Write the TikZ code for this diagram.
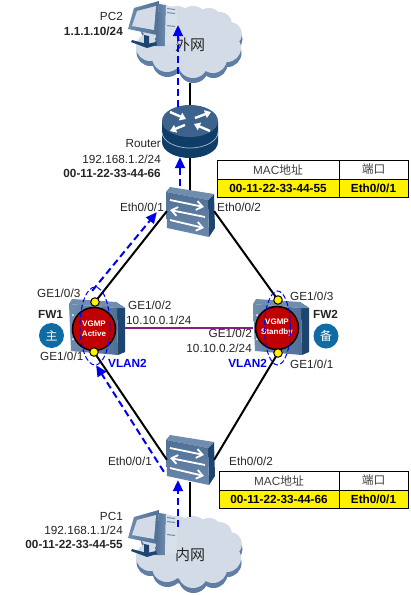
\documentclass[tikz,border=0pt]{standalone}
\usepackage{fontspec}
\setmainfont{Liberation Sans}
\newfontfamily\cjk{Noto Sans CJK SC}
\usetikzlibrary{arrows.meta,calc}
\definecolor{cloudfill}{HTML}{D3DCE6}
\definecolor{cloudshade}{HTML}{5F7DA5}
\definecolor{devface}{HTML}{4F6F96}
\definecolor{devtop}{HTML}{6F8DAE}
\definecolor{devside}{HTML}{1D4570}
\definecolor{routertop}{HTML}{3D638C}
\definecolor{routerdark}{HTML}{0F3D68}
\definecolor{fwred}{HTML}{C00000}
\definecolor{tagblue}{HTML}{0F6BA3}
\definecolor{txt}{HTML}{262626}
\definecolor{headtxt}{HTML}{404040}
\definecolor{link}{HTML}{8B1A8B}
\definecolor{flowblue}{HTML}{0000F0}
\tikzset{
  x=1pt,y=-1pt,
  lbl/.style={font=\fontsize{11.75}{14}\selectfont,text=txt,inner sep=0pt},
  lblb/.style={lbl,font=\fontsize{11.75}{14}\selectfont\bfseries},
  vl/.style={lbl,font=\fontsize{11.75}{14}\selectfont\bfseries,text=flowblue},
  headcell/.style={lbl,text=headtxt},
  wire/.style={line width=2pt,black},
  flow/.style={line width=2pt,flowblue,dash pattern=on 7pt off 4pt,-{Triangle[length=11pt,width=10pt]}},
  vlanring/.style={line width=1pt,flowblue,dash pattern=on 5pt off 2.5pt},
  anchorbox/.style={inner sep=0pt,minimum width=#1,minimum height=#1},
  cell/.style={draw=black,line width=.9pt},
  tagc/.style={circle,fill=tagblue,minimum size=25pt,inner sep=0pt,text=white,font=\cjk\fontsize{12}{12}\selectfont},
  cloudtext/.style={font=\cjk\fontsize{15}{15}\selectfont,text=txt,inner sep=0pt},
  port/.style={circle,fill=yellow,draw=black,line width=1pt,minimum size=8.5pt,inner sep=0pt},
  fwcirc/.style={circle,draw=black,line width=1.5pt,fill=fwred,minimum size=43pt,inner sep=0pt,text=white,font=\bfseries\fontsize{8}{10}\selectfont,align=center},
  pics/cloudshape/.style={code={
    \foreach \fc/\dx/\dy in {cloudshade/0.5/5,cloudfill/0/0}{
      \begin{scope}[shift={(\dx,\dy)}]
        \fill[\fc] (52,37) ellipse [x radius=43pt,y radius=26pt];
        \foreach \cx/\cy/\r in {22/17/17,58/15/15,42/15/15,74/16/14,85/18/12,95/28/12,92/42/14,78/53/14,58/57/15,32/51/15,15/41/14}
          \fill[\fc] (\cx,\cy) circle [radius=\r pt];
      \end{scope}}
  }},
  pics/switchdev/.style={code={
    \fill[devside] (48,7) -- (42,13) -- (43,50) -- (49,41) -- cycle;
    \fill[devtop] (4,0) -- (48,7) -- (42,13) -- (0,5) -- cycle;
    \path[top color=devface,bottom color=devtop!85!devface] (0,5) -- (42,13) -- (43,50) -- (1,41) -- cycle;
    \draw[white,line width=1.8pt,-{Straight Barb[length=6pt,width=9pt]}] (4,13) -- (38,20);
    \draw[white,line width=1.8pt,{Straight Barb[length=6pt,width=9pt]}-] (4,23) -- (39,30);
    \draw[white,line width=1.8pt,-{Straight Barb[length=6pt,width=9pt]}] (4,33) -- (38,41);
  }},
  pics/routerdev/.style={code={
    \fill[routerdark] (0,16) -- (0,37) arc [start angle=180,end angle=360,x radius=28pt,y radius=16pt] -- (56,16) -- cycle;
    \draw[devtop!60!white,line width=.7pt] (0,27) arc [start angle=180,end angle=360,x radius=28pt,y radius=16pt];
    \fill[routertop] (28,16) ellipse [x radius=28pt,y radius=16pt];
    \draw[white,line width=2.4pt,-{Triangle[length=6pt,width=8pt]}] (33,13) -- (49,7);
    \draw[white,line width=2.4pt,-{Triangle[length=6pt,width=8pt]}] (23,20) -- (8,26);
    \draw[white,line width=2.4pt,-{Triangle[length=6pt,width=8pt]}] (8,7) -- (24,14);
    \draw[white,line width=2.4pt,-{Triangle[length=6pt,width=8pt]}] (48,26) -- (32,19);
  }},
  pics/fwbody/.style={code={
    \fill[devside] (47,3) -- (56,9) -- (56,53) -- (49,56) -- (48,9) -- cycle;
    \fill[devtop] (3,0) -- (47,3) -- (56,9) -- (48,9) -- (0,5) -- cycle;
    \path[left color=devtop,right color=devface] (0,5) -- (48,9) -- (49,56) -- (2,52) -- cycle;
    \foreach \py in {16,28,40} \fill[white] (4,\py) circle [radius=1pt];
  }},
  pics/pcdev/.style={code={
    \path[left color=devface,right color=devtop] (32,3) -- (39,4) -- (38,45) -- (28,45) -- cycle;
    \fill[cloudfill!90!white] (39,4) -- (50,7) -- (50,43) -- (38,45) -- cycle;
    \foreach \sy in {7,11,24} \fill[devtop] (40,\sy) -- (48,\sy+1) -- (48,\sy+2) -- (40,\sy+1) -- cycle;
    \fill[devside] (5,39) -- (20,43) -- (29,41) -- (30,44) -- (20,47) -- (4,41) -- cycle;
    \fill[devside] (17,34) -- (22,35) -- (22,46) -- (17,45) -- cycle;
    \path[left color=devtop,right color=devface] (7,7) -- (32,0) -- (30,34) -- (1,28) -- cycle;
    \fill[cloudfill] (10,10) -- (29,5) -- (27,29) -- (5,25) -- cycle;
  }}
}
\begin{document}
\begin{tikzpicture}
\useasboundingbox (0,0) rectangle (411,595);
\fill[white] (0,0) rectangle (411,595);

% clouds
\pic at (135,6) {cloudshape};
\pic at (135,516) {cloudshape};
\node[cloudtext] (wan) at (190,45) {外网};
\node[cloudtext] (lan) at (190,555) {内网};

% named attachment places
\node[anchorbox=0pt] (cloudTb) at (190,83) {};
\node[anchorbox=0pt] (cloudBt) at (190,517) {};
\node[anchorbox=0pt] (routerT) at (190,110) {};
\node[anchorbox=0pt] (routerB) at (190,155) {};
\node[anchorbox=0pt] (swTt) at (190,192) {};
\node[anchorbox=0pt] (swTl) at (167,211) {};
\node[anchorbox=0pt] (swTr) at (214,211) {};
\node[anchorbox=0pt] (swBt) at (190,482) {};
\node[anchorbox=0pt] (swBl) at (167,460) {};
\node[anchorbox=0pt] (swBr) at (214,460) {};

% wires behind devices
\draw[wire] (cloudTb) -- (routerT);
\draw[wire] (routerB) -- (swTt);
\draw[wire] (cloudBt) -- (swBt);

% devices
\pic at (162,105) {routerdev};
\pic at (166,187) {switchdev};
\pic at (166,435) {switchdev};
\pic at (69,299) {fwbody};
\pic at (253,299) {fwbody};
\pic at (127,1) {pcdev};
\pic at (127,510) {pcdev};

% firewall circles
\node[fwcirc] (fw1) at (94,329) {VGMP\\Active};
\node[fwcirc] (fw2) at (277,328) {VGMP\\Standby};

% ports and links
\node[anchorbox=0pt] (p13a) at (95,302) {};
\node[anchorbox=0pt] (p11a) at (94,352) {};
\node[anchorbox=0pt] (p23a) at (278,300) {};
\node[anchorbox=0pt] (p21a) at (278,353) {};
\draw[wire] (swTl) -- (p13a);
\draw[wire] (swTr) -- (p23a);
\draw[wire] (swBl) -- (p11a);
\draw[wire] (swBr) -- (p21a);
\node[port] (p13) at (p13a) {};
\node[port] (p11) at (p11a) {};
\node[port] (p23) at (p23a) {};
\node[port] (p21) at (p21a) {};
\node[anchorbox=0pt] (l1) at (125,328) {};
\node[anchorbox=0pt] (l2) at (253,328) {};
\draw[link,line width=1.5pt] (l1) -- (l2);

% VLAN rings
\draw[vlanring] (95,326) ellipse [x radius=15pt,y radius=39pt];
\draw[vlanring] (277.5,328) ellipse [x radius=13pt,y radius=37pt];

% flow arrows
\node[anchorbox=0pt] (fStart) at (178,527) {};
\node[anchorbox=0pt] (fA) at (178,480) {};
\node[anchorbox=0pt] (fB) at (164,472) {};
\node[anchorbox=0pt] (fC) at (96,365) {};
\node[anchorbox=0pt] (fD) at (92,291) {};
\node[anchorbox=0pt] (fE) at (157,212) {};
\node[anchorbox=0pt] (fF) at (180,186) {};
\node[anchorbox=0pt] (fG) at (180,157) {};
\node[anchorbox=0pt] (fH) at (178,107) {};
\node[anchorbox=0pt] (fI) at (178,25) {};
\draw[flow] (fStart) -- (fA);
\draw[flow] (fB) -- (fC);
\draw[flow] (fD) -- (fE);
\draw[flow] (fF) -- (fG);
\draw[flow] (fH) -- (fI);

% tags
\node[tagc] (tag1) at (51.5,335.5) {主};
\node[tagc] (tag2) at (326,336) {备};

% text
\node[lbl,anchor=east] (pc2a) at (123,16) {PC2};
\node[lblb,anchor=east] (pc2b) at (123,31) {1.1.1.10/24};
\node[lbl,anchor=east] (rt1) at (161,144) {Router};
\node[lbl,anchor=east] (rt2) at (161,159) {192.168.1.2/24};
\node[lblb,anchor=east] (rt3) at (161,173) {00-11-22-33-44-66};
\node[lbl,anchor=east] (e1) at (164,207) {Eth0/0/1};
\node[lbl,anchor=west] (e2) at (217,207) {Eth0/0/2};
\node[lbl,anchor=west] (g1) at (37,293) {GE1/0/3};
\node[lbl,anchor=west] (g2) at (40,356) {GE1/0/1};
\node[lblb,anchor=west] (fwa) at (38,314) {FW1};
\node[lbl,anchor=west] (g3) at (128,305) {GE1/0/2};
\node[lbl,anchor=west] (g4) at (126,320) {10.10.0.1/24};
\node[vl,anchor=west] (v1) at (108,363) {VLAN2};
\node[lbl,anchor=east] (g5) at (252,333) {GE1/0/2};
\node[lbl,anchor=east] (g6) at (252,348) {10.10.0.2/24};
\node[vl,anchor=east] (v2) at (267,363) {VLAN2};
\node[lbl,anchor=west] (g7) at (290,296) {GE1/0/3};
\node[lbl,anchor=west] (g8) at (290,364) {GE1/0/1};
\node[lblb,anchor=west] (fwb) at (313,314) {FW2};
\node[lbl,anchor=east] (e3) at (152,461) {Eth0/0/1};
\node[lbl,anchor=west] (e4) at (229,461) {Eth0/0/2};
\node[lbl,anchor=east] (pc1a) at (123,516) {PC1};
\node[lbl,anchor=east] (pc1b) at (123,530) {192.168.1.1/24};
\node[lblb,anchor=east] (pc1c) at (123,544) {00-11-22-33-44-55};

% MAC tables
\fill[yellow] (217,179) rectangle (408,197);
\draw[cell] (217,160) rectangle (408,197);
\draw[cell] (217,179) -- (408,179);
\draw[cell] (339,160) -- (339,197);
\node[headcell] (t1a) at (278,169.5) {MAC\cjk 地址};
\node[headcell] (t1b) at (373.5,169.5) {\cjk 端口};
\node[lblb,text=black] (t1c) at (278,188) {00-11-22-33-44-55};
\node[lblb,text=black] (t1d) at (373.5,188) {Eth0/0/1};

\fill[yellow] (219,490) rectangle (408,508);
\draw[cell] (219,471) rectangle (408,508);
\draw[cell] (219,490) -- (408,490);
\draw[cell] (339,471) -- (339,508);
\node[headcell] (t2a) at (279,480.5) {MAC\cjk 地址};
\node[headcell] (t2b) at (373.5,480.5) {\cjk 端口};
\node[lblb,text=black] (t2c) at (279,499) {00-11-22-33-44-66};
\node[lblb,text=black] (t2d) at (373.5,499) {Eth0/0/1};
\end{tikzpicture}
\end{document}
